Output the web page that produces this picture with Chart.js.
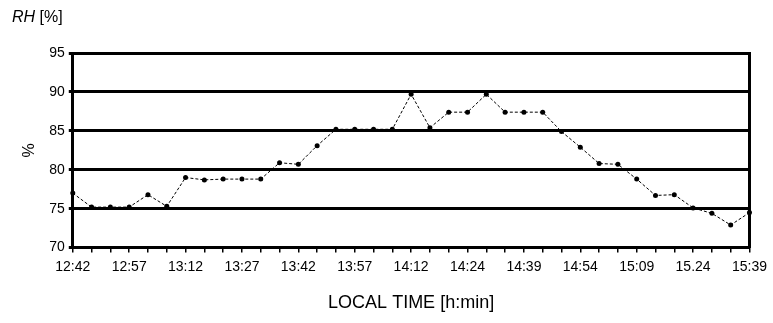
<!DOCTYPE html>
<html>
<head>
<meta charset="utf-8">
<script src="https://cdn.jsdelivr.net/npm/chart.js@4"></script>
<style>
  body { margin: 0; background: #fff; }
  #wrap { position: relative; width: 773px; height: 323px; }
  #rh { position: absolute; left: 12px; top: 8px; font: 16px "Liberation Sans", Arial, sans-serif; color: #000; }
</style>
</head>
<body>
<div id="wrap">
  <div id="rh"><i>RH</i> [%]</div>
  <canvas id="myChart" width="773" height="323"></canvas>
</div>
<script>
// Etiquetas del eje X (una cada 3 mediciones)
const etiquetasHora = ["12:42", "12:57", "13:12", "13:27", "13:42", "13:57", "14:12",
  "14:24", "14:39", "14:54", "15:09", "15.24", "15:39"];

// Humedad relativa (%)
const humedad = [77, 75.2, 75.2, 75.2, 76.8, 75.3, 79, 78.7, 78.8, 78.8,
  78.8, 80.9, 80.7, 83.1, 85.2, 85.2, 85.2, 85.2, 89.7, 85.4,
  87.4, 87.4, 89.7, 87.4, 87.4, 87.4, 84.9, 82.9, 80.8, 80.7,
  78.8, 76.7, 76.8, 75.1, 74.4, 72.9, 74.5];

// Ticks del eje Y
const ticksY = [70, 75, 80, 85, 90, 95];

// Categorías: cada etiqueta seguida de dos marcas sin texto
const categorias = [];
etiquetasHora.forEach((t, i) => {
  categorias.push(t);
  if (i < etiquetasHora.length - 1) categorias.push("", "");
});

const fuente = "'Liberation Sans', Arial, sans-serif";

const config = {
  type: "line",
  data: {
    labels: categorias,
    datasets: [{
      data: humedad,
      borderColor: "#000",
      borderWidth: 1,
      borderDash: [3, 2],
      pointRadius: 2.5,
      pointBackgroundColor: "#000",
      pointBorderWidth: 0,
      tension: 0
    }]
  },
  options: {
    responsive: false,
    animation: false,
    layout: { padding: { top: 53, right: 0, left: 16, bottom: 5 } },
    plugins: { legend: { display: false }, tooltip: { enabled: false } },
    scales: {
      x: {
        offset: false,
        grid: { drawOnChartArea: false, color: "#000", lineWidth: 1.5, tickLength: 5 },
        border: { color: "#000", width: 3 },
        ticks: { autoSkip: false, maxRotation: 0, color: "#000", font: { family: fuente, size: 14 }, padding: 6 },
        title: { display: true, text: "LOCAL TIME [h:min]", color: "#000", font: { family: fuente, size: 18 }, padding: { top: 11 } }
      },
      y: {
        min: ticksY[0],
        max: ticksY[ticksY.length - 1],
        afterBuildTicks: (s) => { s.ticks = ticksY.map(v => ({ value: v })); },
        grid: { color: "#000", lineWidth: 3, tickLength: 4 },
        border: { color: "#000", width: 3 },
        ticks: { color: "#000", font: { family: fuente, size: 14 }, padding: 4 },
        title: { display: true, text: "%", color: "#000", font: { family: fuente, size: 16 }, padding: { bottom: 6 } }
      },
      y2: {
        position: "right",
        min: ticksY[0],
        max: ticksY[ticksY.length - 1],
        grid: { display: false },
        border: { color: "#000", width: 3 },
        ticks: { display: false }
      }
    }
  }
};

new Chart(document.getElementById("myChart").getContext("2d"), config);
</script>
</body>
</html>
